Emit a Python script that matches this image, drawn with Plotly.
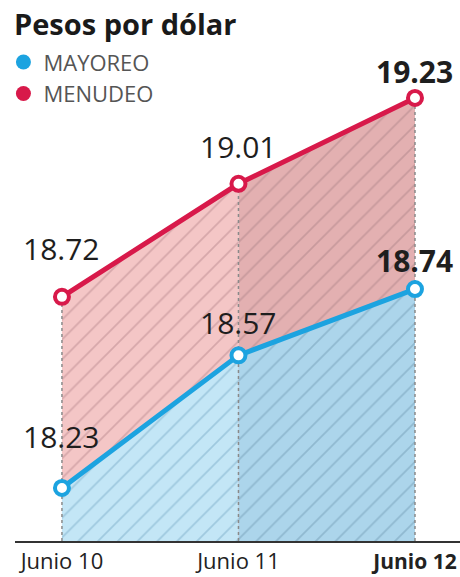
import plotly.graph_objects as go

# ---- data ----
categories = ["Junio 10", "Junio 11", "Junio 12"]
tick_labels = ["Junio 10", "Junio 11",
               "<b><span style='font-size:21px'>Junio 12</span></b>"]
mayoreo = [18.23, 18.57, 18.74]
menudeo = [18.72, 19.01, 19.23]
title_text = "Pesos por dólar"
series_names = ["MAYOREO", "MENUDEO"]

# ---- styles ----
RED = "#d8194a"
BLUE = "#1ca3e0"
PINK_BG = ["#f4c6c6", "#e3b0b1"]
PINK_FG = ["#d6a7aa", "#c89a9d"]
BLUE_BG = ["#c3e6f6", "#acd5eb"]
BLUE_FG = ["#9fc9df", "#90b9d0"]
Y_MIN, Y_MAX = 18.094, 19.353
X_MIN, X_MAX = -0.266, 2.255
FONT = "Open Sans"

xs = list(range(len(categories)))
fig = go.Figure()

def add_fill(vals, bgs, fgs):
    for i in range(len(vals) - 1):
        fig.add_trace(go.Scatter(
            x=[xs[i], xs[i + 1]], y=[vals[i], vals[i + 1]],
            mode="none", fill="tozeroy", fillcolor=bgs[i],
            fillpattern=dict(shape="/", bgcolor=bgs[i], fgcolor=fgs[i],
                             size=14, solidity=0.12, fillmode="replace"),
            showlegend=False, hoverinfo="skip"))

add_fill(menudeo, PINK_BG, PINK_FG)
add_fill(mayoreo, BLUE_BG, BLUE_FG)

# dotted verticals
for i, x in enumerate(xs):
    fig.add_trace(go.Scatter(
        x=[x, x], y=[Y_MIN, menudeo[i]], mode="lines",
        line=dict(color="#8a8a8a", width=1.5, dash="dot"),
        showlegend=False, hoverinfo="skip"))

# lines
for vals, color in [(menudeo, RED), (mayoreo, BLUE)]:
    fig.add_trace(go.Scatter(
        x=xs, y=vals, mode="lines+markers",
        line=dict(color=color, width=5),
        marker=dict(size=14, color="white", line=dict(color=color, width=4)),
        showlegend=False, hoverinfo="skip"))

# legend entries
for name, color in zip(series_names, [BLUE, RED]):
    fig.add_trace(go.Scatter(
        x=[None], y=[None], mode="markers", name=name,
        marker=dict(size=15, color=color)))

# value labels
may_shift = [51, 33, 29]
men_shift = [48, 37, 26]
for vals, shifts in [(mayoreo, may_shift), (menudeo, men_shift)]:
    for i, v in enumerate(vals):
        last = i == len(vals) - 1
        fig.add_annotation(
            x=xs[i], y=v, text=(f"<b>{v:.2f}</b>" if last else f"{v:.2f}"),
            showarrow=False, yshift=shifts[i],
            font=dict(family=FONT, size=30, color="#1e1e1e"))

fig.update_layout(
    width=460, height=577,
    margin=dict(l=15, r=0, t=50, b=36, autoexpand=False),
    paper_bgcolor="white", plot_bgcolor="white",
    title=dict(text=f"<b>{title_text}</b>", x=14 / 460, xanchor="left",
               xref="container", y=1 - 25 / 577, yanchor="middle",
               font=dict(family=FONT, size=29, color="#1a1a1a")),
    legend=dict(x=-0.026, y=1.018, xanchor="left", yanchor="top",
                font=dict(family=FONT, size=22, color="#555555"),
                bgcolor="rgba(0,0,0,0)", tracegroupgap=0, itemwidth=30),
    xaxis=dict(range=[X_MIN, X_MAX], tickvals=xs, ticktext=tick_labels,
               showgrid=False, zeroline=False, showline=True,
               linecolor="#333333", linewidth=2, ticks="",
               automargin=False, ticklabeloverflow="allow",
               tickfont=dict(family=FONT, size=22, color="#222222")),
    yaxis=dict(range=[Y_MIN, Y_MAX], visible=False, automargin=False),
)

fig.write_html("out.html", config={"displayModeBar": False},
               post_script="document.body.style.margin='0';")
